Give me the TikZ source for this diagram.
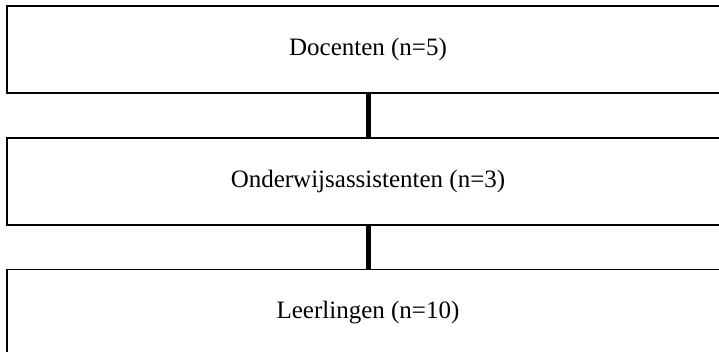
\documentclass[tikz,border=0pt]{standalone}
\usepackage{fontspec}
\setmainfont{Liberation Serif}
\usetikzlibrary{positioning}

\begin{document}
\begin{tikzpicture}[x=1pt, y=-1pt,
  levelbox/.style={draw, line width=1.7pt, minimum width=722pt, minimum height=87pt,
    inner sep=0pt, font=\fontsize{25}{30}\selectfont},
  link/.style={line width=5pt}]
\useasboundingbox (0,0) rectangle (719,352);
\node[levelbox] (docenten) at (368,49.5) {Docenten (n=5)};
\node[levelbox, below=43pt of docenten] (assistenten) {\raisebox{-4pt}{Onderwijsassistenten (n=3)}};
\node[levelbox, below=43pt of assistenten] (leerlingen) {Leerlingen (n=10)};
\path[link]
(docenten) edge (assistenten)
(assistenten) edge (leerlingen)
;
\end{tikzpicture}
\end{document}
